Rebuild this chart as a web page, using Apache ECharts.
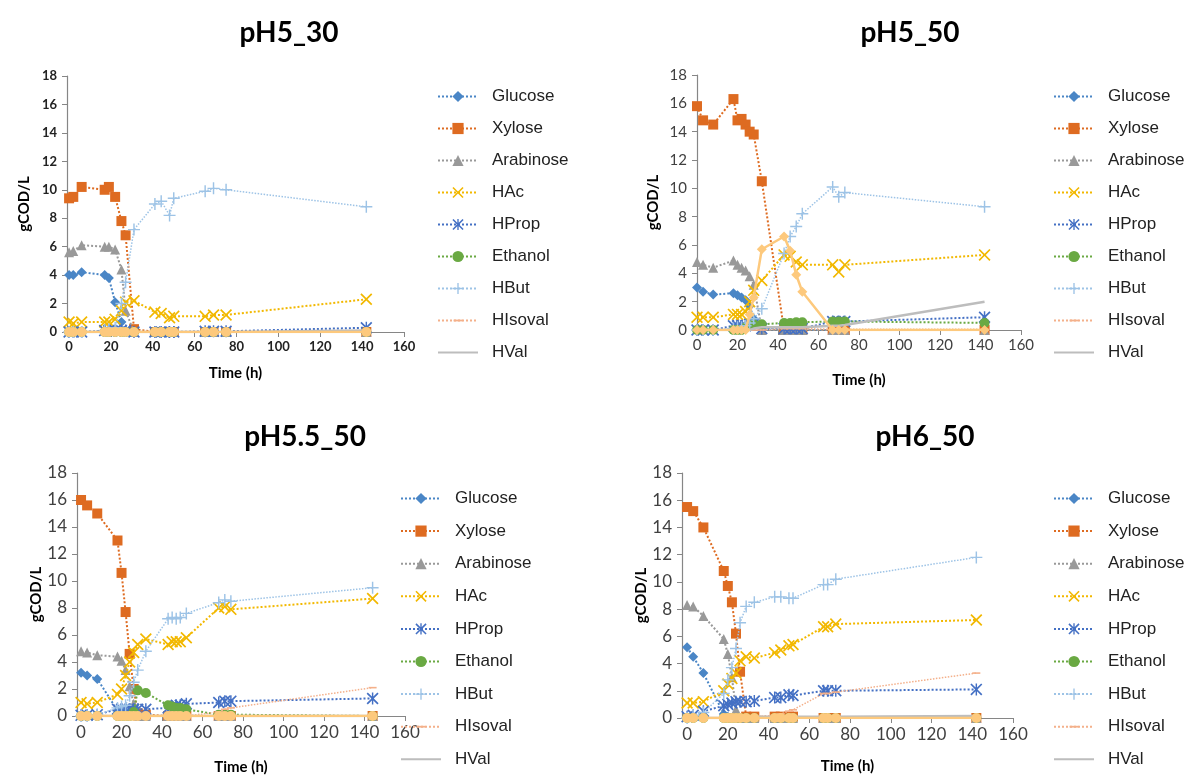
<!DOCTYPE html>
<html>
<head>
<meta charset="utf-8">
<title>COD profiles</title>
<script src="https://cdn.jsdelivr.net/npm/echarts@6/dist/echarts.min.js"></script>
<style>
  html, body { margin: 0; padding: 0; background: #fff; }
  #main { width: 1196px; height: 776px; }
</style>
</head>
<body>
<div id="main"></div>
<script>
// series shown in every panel (last one is the unlabelled light orange line)
var seriesNames = ['Glucose', 'Xylose', 'Arabinose', 'HAc', 'HProp', 'Ethanol', 'HBut', 'HIsoval', 'HVal'];
var chartTitles = ['pH5_30', 'pH5_50', 'pH5.5_50', 'pH6_50'];
var xTicks = [0, 20, 40, 60, 80, 100, 120, 140, 160];
var yTicks = [0, 2, 4, 6, 8, 10, 12, 14, 16, 18];

// ---- pH5_30 ----
var time_pH5_30     = [0, 2, 6, 17, 19, 22, 25, 27, 31, 41, 44, 48, 50, 65, 69, 75, 142];
var glucose_pH5_30  = [4.0, 4.0, 4.2, 4.0, 3.8, 2.1, 0.7, 0.1, 0, 0, 0, 0, 0, 0, 0, 0, 0];
var xylose_pH5_30   = [9.4, 9.5, 10.2, 10.0, 10.2, 9.5, 7.8, 6.8, 0.2, 0, 0, 0, 0, 0, 0, 0, 0];
var arabin_pH5_30   = [5.6, 5.7, 6.1, 6.0, 6.0, 5.8, 4.4, 1.5, 0, 0, 0, 0, 0, 0, 0, 0, 0];
var hac_pH5_30      = [0.7, 0.6, 0.7, 0.7, 0.7, 0.9, 1.5, 2.1, 2.2, 1.4, 1.3, 1.0, 1.1, 1.1, 1.2, 1.2, 2.3];
var hprop_pH5_30    = [0, 0, 0, 0.1, 0.1, 0.1, 0.1, 0.1, 0, 0, 0, 0, 0, 0.05, 0.05, 0.05, 0.3];
var ethanol_pH5_30  = [0, 0, 0, 0, 0, 0, 0, 0, 0, 0, 0, 0, 0, 0, 0, 0, 0];
var hbut_pH5_30     = [0, 0, 0, 0.1, 0.2, 0.3, 2.0, 3.5, 7.2, 9.0, 9.2, 8.2, 9.4, 9.9, 10.1, 10.0, 8.8];
var hisoval_pH5_30  = [0, 0, 0, 0, 0, 0, 0, 0, 0, 0, 0, 0, 0, 0, 0, 0, 0.1];
var hval_pH5_30     = [0, 0, 0, 0, 0, 0, 0, 0, 0, 0, 0, 0, 0, 0, 0, 0, 0.1];
var other_pH5_30    = [0, 0, 0, 0, 0, 0, 0, 0, 0, 0, 0, 0, 0, 0, 0, 0, 0];

// ---- pH5_50 ----
var time_pH5_50     = [0, 3, 8, 18, 20, 22, 24, 26, 28, 32, 43, 46, 49, 52, 67, 70, 73, 142];
var glucose_pH5_50  = [3.0, 2.7, 2.5, 2.6, 2.45, 2.3, 2.1, 1.7, 0.8, 0.1, 0, 0, 0, 0, 0, 0, 0, 0];
var xylose_pH5_50   = [15.8, 14.8, 14.5, 16.3, 14.8, 14.9, 14.5, 14.0, 13.8, 10.5, 0, 0, 0, 0, 0, 0, 0, 0];
var arabin_pH5_50   = [4.8, 4.6, 4.4, 4.9, 4.6, 4.4, 4.2, 3.8, 3.2, 0, 0, 0, 0, 0, 0, 0, 0, 0];
var hac_pH5_50      = [0.9, 0.9, 0.9, 1.1, 1.1, 1.1, 1.3, 2.0, 2.8, 3.5, 5.3, 5.2, 4.8, 4.6, 4.6, 4.1, 4.6, 5.3];
var hprop_pH5_50    = [0, 0, 0, 0.3, 0.3, 0.3, 0.3, 0.4, 0.4, 0.1, 0.1, 0.1, 0.1, 0.1, 0.6, 0.6, 0.6, 0.9];
var ethanol_pH5_50  = [0, 0, 0, 0, 0, 0, 0.2, 0.3, 0.4, 0.4, 0.5, 0.5, 0.55, 0.55, 0.6, 0.6, 0.6, 0.5];
var hbut_pH5_50     = [0, 0, 0, 0.1, 0.2, 0.2, 0.3, 0.5, 0.8, 1.5, 5.4, 6.6, 7.3, 8.2, 10.1, 9.4, 9.7, 8.7];
var hisoval_pH5_50  = [0, 0, 0, 0, 0, 0, 0, 0, 0, 0, 0.1, 0.1, 0.1, 0.1, 0.05, 0.05, 0.05, 0.05];
var hval_pH5_50     = [0, 0, 0, 0, 0, 0, 0, 0, 0.1, 0.2, 0.2, 0.2, 0.2, 0.2, 0.3, 0.3, 0.35, 2.0];
var other_pH5_50    = [0, 0, 0, 0, 0, 0, 0, 1.1, 2.3, 5.7, 6.6, 5.6, 3.9, 2.7, 0, 0, 0, 0];

// ---- pH5.5_50 ----
var time_pH55_50    = [0, 3, 8, 18, 20, 22, 24, 26, 28, 32, 43, 45, 47, 49, 52, 68, 71, 74, 144];
var glucose_pH55_50 = [3.2, 3.0, 2.75, 0.4, 0.4, 0.3, 0.3, 0.2, 0.1, 0, 0, 0, 0, 0, 0, 0, 0, 0, 0];
var xylose_pH55_50  = [16.0, 15.6, 15.0, 13.0, 10.6, 7.7, 4.6, 2.0, 0.2, 0.1, 0, 0, 0, 0, 0, 0, 0, 0, 0];
var arabin_pH55_50  = [4.8, 4.7, 4.5, 4.4, 4.1, 3.4, 2.2, 0.9, 0, 0, 0, 0, 0, 0, 0, 0, 0, 0, 0];
var hac_pH55_50     = [1.0, 0.9, 1.0, 1.6, 2.0, 3.0, 4.0, 4.7, 5.3, 5.7, 5.3, 5.5, 5.5, 5.5, 5.8, 8.0, 8.1, 7.9, 8.7];
var hprop_pH55_50   = [0.05, 0.05, 0.1, 0.5, 0.5, 0.5, 0.5, 0.5, 0.5, 0.5, 0.6, 0.7, 0.8, 0.8, 0.9, 1.0, 1.1, 1.1, 1.3];
var ethanol_pH55_50 = [0, 0, 0, 0, 0, 0, 0, 0.3, 1.9, 1.7, 0.8, 0.7, 0.6, 0.6, 0.5, 0.1, 0.1, 0.1, 0];
var hbut_pH55_50    = [0, 0, 0.1, 0.6, 0.7, 0.8, 1.5, 2.5, 3.4, 4.8, 7.2, 7.3, 7.2, 7.3, 7.6, 8.4, 8.6, 8.5, 9.5];
var hisoval_pH55_50 = [0, 0, 0, 0, 0, 0, 0, 0, 0, 0, 0, 0, 0, 0, 0, 0.3, 0.5, 0.6, 2.1];
var hval_pH55_50    = [0, 0, 0, 0, 0, 0, 0, 0, 0, 0, 0, 0, 0, 0, 0, 0, 0, 0, 0];
var other_pH55_50   = [0, 0, 0, 0, 0, 0, 0, 0, 0, 0, 0, 0, 0, 0, 0, 0, 0, 0, 0];

// ---- pH6_50 ----
var time_pH6_50     = [0, 3, 8, 18, 20, 22, 24, 26, 29, 33, 43, 46, 50, 52, 67, 69, 73, 142];
var glucose_pH6_50  = [5.2, 4.5, 3.3, 0.3, 0.1, 0, 0, 0, 0, 0, 0, 0, 0, 0, 0, 0, 0, 0];
var xylose_pH6_50   = [15.5, 15.2, 14.0, 10.8, 9.7, 8.5, 6.2, 3.4, 0.1, 0.1, 0.1, 0.1, 0.1, 0.1, 0, 0, 0, 0];
var arabin_pH6_50   = [8.3, 8.2, 7.5, 5.8, 4.7, 3.0, 0.6, 0, 0, 0, 0, 0, 0, 0, 0, 0, 0, 0];
var hac_pH6_50      = [1.1, 1.1, 1.2, 2.0, 2.5, 2.9, 3.3, 4.2, 4.5, 4.4, 4.8, 5.0, 5.3, 5.4, 6.7, 6.7, 6.9, 7.2];
var hprop_pH6_50    = [0.1, 0.2, 0.5, 0.9, 1.0, 1.1, 1.2, 1.2, 1.2, 1.25, 1.5, 1.5, 1.7, 1.65, 2.0, 2.0, 2.0, 2.1];
var ethanol_pH6_50  = [0, 0, 0, 0, 0, 0, 0, 0, 0, 0, 0, 0, 0, 0, 0, 0, 0, 0];
var hbut_pH6_50     = [0, 0.2, 0.4, 1.8, 2.8, 3.7, 5.1, 7.0, 8.2, 8.5, 8.9, 8.9, 8.8, 8.8, 9.8, 9.8, 10.2, 11.8];
var hisoval_pH6_50  = [0, 0, 0, 0, 0, 0, 0, 0.1, 0.1, 0.1, 0.2, 0.3, 0.5, 0.6, 1.8, 1.8, 1.9, 3.3];
var hval_pH6_50     = [0, 0, 0, 0, 0, 0, 0, 0.1, 0.1, 0.1, 0.1, 0.1, 0.1, 0.1, 0.1, 0.1, 0.1, 0.15];
var other_pH6_50    = [0, 0, 0, 0, 0, 0, 0, 0, 0, 0, 0, 0, 0, 0, 0, 0, 0, 0];

var panels = [
  { time: time_pH5_30, values: [glucose_pH5_30, xylose_pH5_30, arabin_pH5_30, hac_pH5_30, hprop_pH5_30, ethanol_pH5_30, hbut_pH5_30, hisoval_pH5_30, hval_pH5_30, other_pH5_30] },
  { time: time_pH5_50, values: [glucose_pH5_50, xylose_pH5_50, arabin_pH5_50, hac_pH5_50, hprop_pH5_50, ethanol_pH5_50, hbut_pH5_50, hisoval_pH5_50, hval_pH5_50, other_pH5_50] },
  { time: time_pH55_50, values: [glucose_pH55_50, xylose_pH55_50, arabin_pH55_50, hac_pH55_50, hprop_pH55_50, ethanol_pH55_50, hbut_pH55_50, hisoval_pH55_50, hval_pH55_50, other_pH55_50] },
  { time: time_pH6_50, values: [glucose_pH6_50, xylose_pH6_50, arabin_pH6_50, hac_pH6_50, hprop_pH6_50, ethanol_pH6_50, hbut_pH6_50, hisoval_pH6_50, hval_pH6_50, other_pH6_50] }
];

// marker shapes (the extra moveTo points keep the dash's bounding box square)
var xMark = 'path://M0,1 L1,0 L5,4 L9,0 L10,1 L6,5 L10,9 L9,10 L5,6 L1,10 L0,9 L4,5 Z';
var starMark = 'path://M0,1 L1,0 L5,4 L9,0 L10,1 L6,5 L10,9 L9,10 L5,6 L1,10 L0,9 L4,5 Z M4.4,0 L5.6,0 L5.6,10 L4.4,10 Z';
var plusMark = 'path://M4.4,0 L5.6,0 L5.6,4.4 L10,4.4 L10,5.6 L5.6,5.6 L5.6,10 L4.4,10 L4.4,5.6 L0,5.6 L0,4.4 L4.4,4.4 Z';
var dashMark = 'path://M0,0 M1,4.2 L9,4.2 L9,5.8 L1,5.8 Z M10,10';

var styles = [
  { color: '#4a86c6', symbol: 'diamond', size: 10, lw: 2, type: 'dotted' },
  { color: '#de6b21', symbol: 'rect', size: 10, lw: 2, type: 'dotted' },
  { color: '#999999', symbol: 'triangle', size: 10, lw: 2, type: 'dotted' },
  { color: '#f2b800', symbol: xMark, size: 12, lw: 2, type: 'dotted' },
  { color: '#4470c4', symbol: starMark, size: 12, lw: 2, type: 'dotted' },
  { color: '#6aa943', symbol: 'circle', size: 10, lw: 2, type: 'dotted' },
  { color: '#9dc3e6', symbol: plusMark, size: 12, lw: 1.5, type: 'dotted' },
  { color: '#f4b08a', symbol: dashMark, size: 10, lw: 1.5, type: 'dotted' },
  { color: '#bdbdbd', symbol: 'none', size: 0, lw: 2.5, type: 'solid' },
  { color: '#fdc97d', symbol: 'circle', size: 10, lw: 2.5, type: 'solid' }
];

var layouts = [
  { grid: { left: 67, top: 76, width: 337, height: 256 }, xmin: -1, tx: 284, ty: 14, lx: 437, ly: 88, lgap: 15, labelSize: 13, bold: true, xGap: 34, yGap: 35, labelColor: '#222' },
  { grid: { left: 697, top: 75, width: 324, height: 255 }, xmin: 0, tx: 905, ty: 14, lx: 1053, ly: 88, lgap: 15, labelSize: 15, bold: false, xGap: 43, yGap: 36, labelColor: '#404040' },
  { grid: { left: 77, top: 473, width: 328, height: 245 }, xmin: -2, tx: 300, ty: 418, lx: 400, ly: 490, lgap: 15.6, labelSize: 17, bold: false, xGap: 44, yGap: 33, labelColor: '#404040' },
  { grid: { left: 682, top: 473, width: 331, height: 245 }, xmin: -2.5, tx: 920, ty: 418, lx: 1053, ly: 490, lgap: 15.6, labelSize: 17, bold: false, xGap: 41, yGap: 30, labelColor: '#404040' }
];

// the diamond markers of the unlabelled series in pH5_50
var otherSymbol = ['circle', 'diamond', 'circle', 'circle'];

var legendData = seriesNames.map(function (n) {
  return n === 'HVal' ? { name: n, itemStyle: { opacity: 0 } } : { name: n };
});

var myChart = echarts.init(document.getElementById('main'), null, { renderer: 'canvas' });

var option = {
  backgroundColor: '#ffffff',
  animation: false,
  title: [],
  legend: [],
  grid: [],
  xAxis: [],
  yAxis: [],
  series: []
};

layouts.forEach(function (lay, gi) {
  option.title.push({
    text: chartTitles[gi],
    left: lay.tx,
    top: lay.ty,
    textAlign: 'center',
    textStyle: { fontFamily: 'Lato', fontWeight: 'bold', fontSize: 28, color: '#000' }
  });
  option.grid.push(lay.grid);
  option.xAxis.push({
    type: 'value',
    gridIndex: gi,
    min: lay.xmin,
    max: 160,
    name: 'Time (h)',
    nameLocation: 'middle',
    nameGap: lay.xGap,
    nameTextStyle: { fontFamily: 'Lato', fontWeight: 'bold', fontSize: 15, color: '#000' },
    axisLine: { onZero: false, lineStyle: { color: '#868686', width: 1.2 } },
    axisTick: { show: true, length: 5, customValues: xTicks, lineStyle: { color: '#868686' } },
    axisLabel: { customValues: xTicks, fontFamily: 'Lato', fontSize: lay.labelSize, fontWeight: lay.bold ? 'bold' : 'normal', color: lay.labelColor, margin: 8 },
    splitLine: { show: false }
  });
  option.yAxis.push({
    type: 'value',
    gridIndex: gi,
    min: 0,
    max: 18,
    interval: 2,
    name: 'gCOD/L',
    nameLocation: 'middle',
    nameGap: lay.yGap,
    nameTextStyle: { fontFamily: 'Lato', fontWeight: 'bold', fontSize: 15, color: '#000' },
    axisLine: { show: true, onZero: false, lineStyle: { color: '#868686', width: 1.2 } },
    axisTick: { show: true, length: 5, lineStyle: { color: '#868686' } },
    axisLabel: { fontFamily: 'Lato', fontSize: lay.labelSize, fontWeight: lay.bold ? 'bold' : 'normal', color: lay.labelColor, margin: 10 },
    splitLine: { show: false }
  });
  option.legend.push({
    orient: 'vertical',
    left: lay.lx,
    top: lay.ly,
    height: 290,
    padding: 0,
    itemWidth: 40,
    itemHeight: 14,
    itemGap: lay.lgap,
    data: legendData,
    selectedMode: false,
    textStyle: { fontFamily: 'Liberation Sans', fontSize: 17, color: '#222', padding: [0, 0, 0, 9] }
  });

  var p = panels[gi];
  p.values.forEach(function (vals, si) {
    var st = styles[si];
    var sym = si === 9 ? otherSymbol[gi] : st.symbol;
    option.series.push({
      name: si < seriesNames.length ? seriesNames[si] : 'other',
      type: 'line',
      xAxisIndex: gi,
      yAxisIndex: gi,
      data: p.time.map(function (t, k) { return [t, vals[k]]; }),
      symbol: sym,
      symbolSize: st.size,
      showSymbol: sym !== 'none',
      itemStyle: { color: st.color },
      lineStyle: { color: st.color, width: st.lw, type: st.type },
      z: 2 + si * 0.01
    });
  });
});

myChart.setOption(option);
</script>
</body>
</html>
